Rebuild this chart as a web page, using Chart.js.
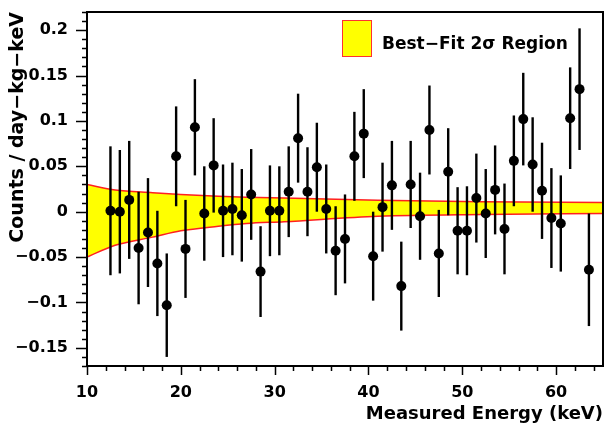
<!DOCTYPE html>
<html lang="en">
<head>
    <meta charset="UTF-8">
    <title>Best-Fit 2σ Region</title>
    <script src="https://cdn.jsdelivr.net/npm/chart.js@4"></script>
    <style>
        body { margin: 0; background: #fff; }
    </style>
</head>
<body>

<canvas id="energyChart" width="608" height="423"></canvas>

<script>
    // measured points (keV, counts/day-kg-keV, 1 sigma error)
    const energy = [12.5, 13.5, 14.5, 15.5, 16.5, 17.5, 18.5, 19.5, 20.5, 21.5,
                    22.5, 23.5, 24.5, 25.5, 26.5, 27.5, 28.5, 29.5, 30.5, 31.5,
                    32.5, 33.5, 34.5, 35.5, 36.5, 37.5, 38.5, 39.5, 40.5, 41.5,
                    42.5, 43.5, 44.5, 45.5, 46.5, 47.5, 48.5, 49.5, 50.5, 51.5,
                    52.5, 53.5, 54.5, 55.5, 56.5, 57.5, 58.5, 59.5, 60.5, 61.5,
                    62.5, 63.5];
    const counts = [0.001, 0.000, 0.013, -0.040, -0.023, -0.057, -0.103, 0.061, -0.041, 0.093,
                    -0.002, 0.051, 0.001, 0.003, -0.004, 0.019, -0.066, 0.001, 0.001, 0.022,
                    0.081, 0.022, 0.049, 0.003, -0.043, -0.030, 0.061, 0.086, -0.049, 0.005,
                    0.029, -0.082, 0.030, -0.005, 0.090, -0.046, 0.044, -0.021, -0.021, 0.015,
                    -0.002, 0.024, -0.019, 0.056, 0.102, 0.052, 0.023, -0.007, -0.013, 0.103,
                    0.135, -0.064];
    const errors = [0.071, 0.068, 0.065, 0.062, 0.060, 0.058, 0.057, 0.055, 0.054, 0.053,
                    0.052, 0.052, 0.051, 0.051, 0.051, 0.050, 0.050, 0.050, 0.049, 0.050,
                    0.049, 0.049, 0.049, 0.049, 0.049, 0.049, 0.049, 0.049, 0.049, 0.049,
                    0.049, 0.049, 0.048, 0.048, 0.049, 0.048, 0.048, 0.048, 0.049, 0.049,
                    0.049, 0.049, 0.050, 0.050, 0.051, 0.052, 0.053, 0.055, 0.053, 0.056,
                    0.067, 0.062];

    // best-fit 2 sigma band edges
    const bandE  = [10, 13, 17, 20, 24, 27, 31, 41, 52, 65];
    const bandHi = [0.030, 0.024, 0.021, 0.019, 0.017, 0.016, 0.015, 0.0125, 0.011, 0.010];
    const bandLo = [-0.050, -0.037, -0.028, -0.021, -0.016, -0.013, -0.011, -0.005, -0.003, -0.002];

    const xTicks = [10, 20, 30, 40, 50, 60];
    const xTickLabels = ['10', '20', '30', '40', '50', '60'];
    const yTicks = [-0.15, -0.1, -0.05, 0, 0.05, 0.1, 0.15, 0.2];
    const yTickLabels = ['\u22120.15', '\u22120.1', '\u22120.05', '0', '0.05', '0.1', '0.15', '0.2'];

    const FONT = 'DejaVu Sans';

    // error bars, drawn just before the points (points are dataset 2)
    const errorBars = {
        id: 'errorBars',
        beforeDatasetDraw(chart, args) {
            if (args.index !== 2) return;
            const {ctx, scales: {x, y}} = chart;
            ctx.save();
            ctx.strokeStyle = '#000';
            ctx.lineWidth = 2.4;
            energy.forEach((e, i) => {
                const px = x.getPixelForValue(e);
                ctx.beginPath();
                ctx.moveTo(px, y.getPixelForValue(counts[i] + errors[i]));
                ctx.lineTo(px, y.getPixelForValue(counts[i] - errors[i]));
                ctx.stroke();
            });
            ctx.restore();
        }
    };

    // frame box, outward ticks and the legend
    const frame = {
        id: 'frame',
        afterDraw(chart) {
            const {ctx, chartArea: a, scales: {x, y}} = chart;
            ctx.save();
            ctx.strokeStyle = '#000';
            ctx.lineWidth = 1.5;
            ctx.beginPath();
            for (let v = 10; v <= 65; v += 2) {
                const px = Math.round(x.getPixelForValue(v)) + 0.5;
                const len = v % 10 === 0 ? 9 : 5;
                ctx.moveTo(px, a.bottom);
                ctx.lineTo(px, a.bottom + len);
            }
            for (let k = -17; k <= 22; k++) {
                const py = Math.round(y.getPixelForValue(k / 100)) + 0.5;
                const len = k % 5 === 0 ? 11 : 5;
                ctx.moveTo(a.left, py);
                ctx.lineTo(a.left - len, py);
            }
            ctx.stroke();
            ctx.lineWidth = 2;
            ctx.strokeRect(a.left, a.top, a.right - a.left, a.bottom - a.top);

            // legend
            ctx.fillStyle = '#ffff00';
            ctx.fillRect(342, 20, 30, 37);
            ctx.strokeStyle = '#ff3030';
            ctx.lineWidth = 1;
            ctx.strokeRect(342.5, 20.5, 29, 36);
            ctx.fillStyle = '#000';
            ctx.font = 'bold 17px "' + FONT + '"';
            ctx.textBaseline = 'alphabetic';
            ctx.fillText('Best\u2212Fit 2\u03c3 Region', 382, 49);
            ctx.restore();
        }
    };

    function noPad(s) {
        s.paddingTop = 0;
        s.paddingBottom = 0;
        s.paddingLeft = 0;
        s.paddingRight = 0;
    }

    const ctx = document.getElementById('energyChart').getContext('2d');
    const chart = new Chart(ctx, {
        type: 'scatter',
        data: {
            datasets: [{
                label: 'band high',
                data: bandE.map((e, i) => ({x: e, y: bandHi[i]})),
                order: 2,
                showLine: true,
                borderColor: '#ff2020',
                borderWidth: 1.5,
                backgroundColor: '#ffff00',
                pointRadius: 0,
                cubicInterpolationMode: 'monotone',
                fill: '+1'
            }, {
                label: 'band low',
                data: bandE.map((e, i) => ({x: e, y: bandLo[i]})),
                order: 1,
                showLine: true,
                borderColor: '#ff2020',
                borderWidth: 1.5,
                pointRadius: 0,
                cubicInterpolationMode: 'monotone',
                fill: false
            }, {
                label: 'data',
                data: energy.map((e, i) => ({x: e, y: counts[i]})),
                order: 0,
                showLine: false,
                pointRadius: 5,
                pointBackgroundColor: '#000',
                pointBorderColor: '#000',
                pointBorderWidth: 0
            }]
        },
        options: {
            responsive: false,
            animation: false,
            layout: { padding: { top: 12, right: 1, left: 0, bottom: 0 } },
            plugins: {
                legend: { display: false },
                tooltip: { enabled: false }
            },
            scales: {
                x: {
                    type: 'linear',
                    min: 10,
                    max: 65,
                    afterFit: s => { s.height = 57; noPad(s); },
                    afterBuildTicks: s => { s.ticks = xTicks.map(v => ({value: v})); },
                    grid: { drawOnChartArea: false, drawTicks: false },
                    border: { display: false },
                    ticks: {
                        padding: 17,
                        color: '#000',
                        font: { family: FONT, size: 16, weight: 'bold' },
                        callback: v => xTickLabels[xTicks.indexOf(v)]
                    },
                    title: {
                        display: true,
                        text: 'Measured Energy (keV)',
                        align: 'end',
                        color: '#000',
                        font: { family: FONT, size: 18, weight: 'bold', lineHeight: 1 },
                        padding: { top: 0, bottom: 0 }
                    }
                },
                y: {
                    type: 'linear',
                    min: -0.17,
                    max: 0.22,
                    afterFit: s => { s.width = 87; noPad(s); },
                    afterBuildTicks: s => { s.ticks = yTicks.map(v => ({value: v})); },
                    grid: { drawOnChartArea: false, drawTicks: false },
                    border: { display: false },
                    ticks: {
                        padding: 19,
                        color: '#000',
                        font: { family: FONT, size: 16, weight: 'bold' },
                        callback: v => yTickLabels[yTicks.findIndex(t => Math.abs(t - v) < 1e-9)]
                    },
                    title: {
                        display: true,
                        text: 'Counts / day\u2212kg\u2212keV',
                        align: 'end',
                        color: '#000',
                        font: { family: FONT, size: 19, weight: 'bold', lineHeight: 1.2 },
                        padding: { top: 7, bottom: 0 }
                    }
                }
            }
        },
        plugins: [errorBars, frame]
    });
</script>

</body>
</html>
